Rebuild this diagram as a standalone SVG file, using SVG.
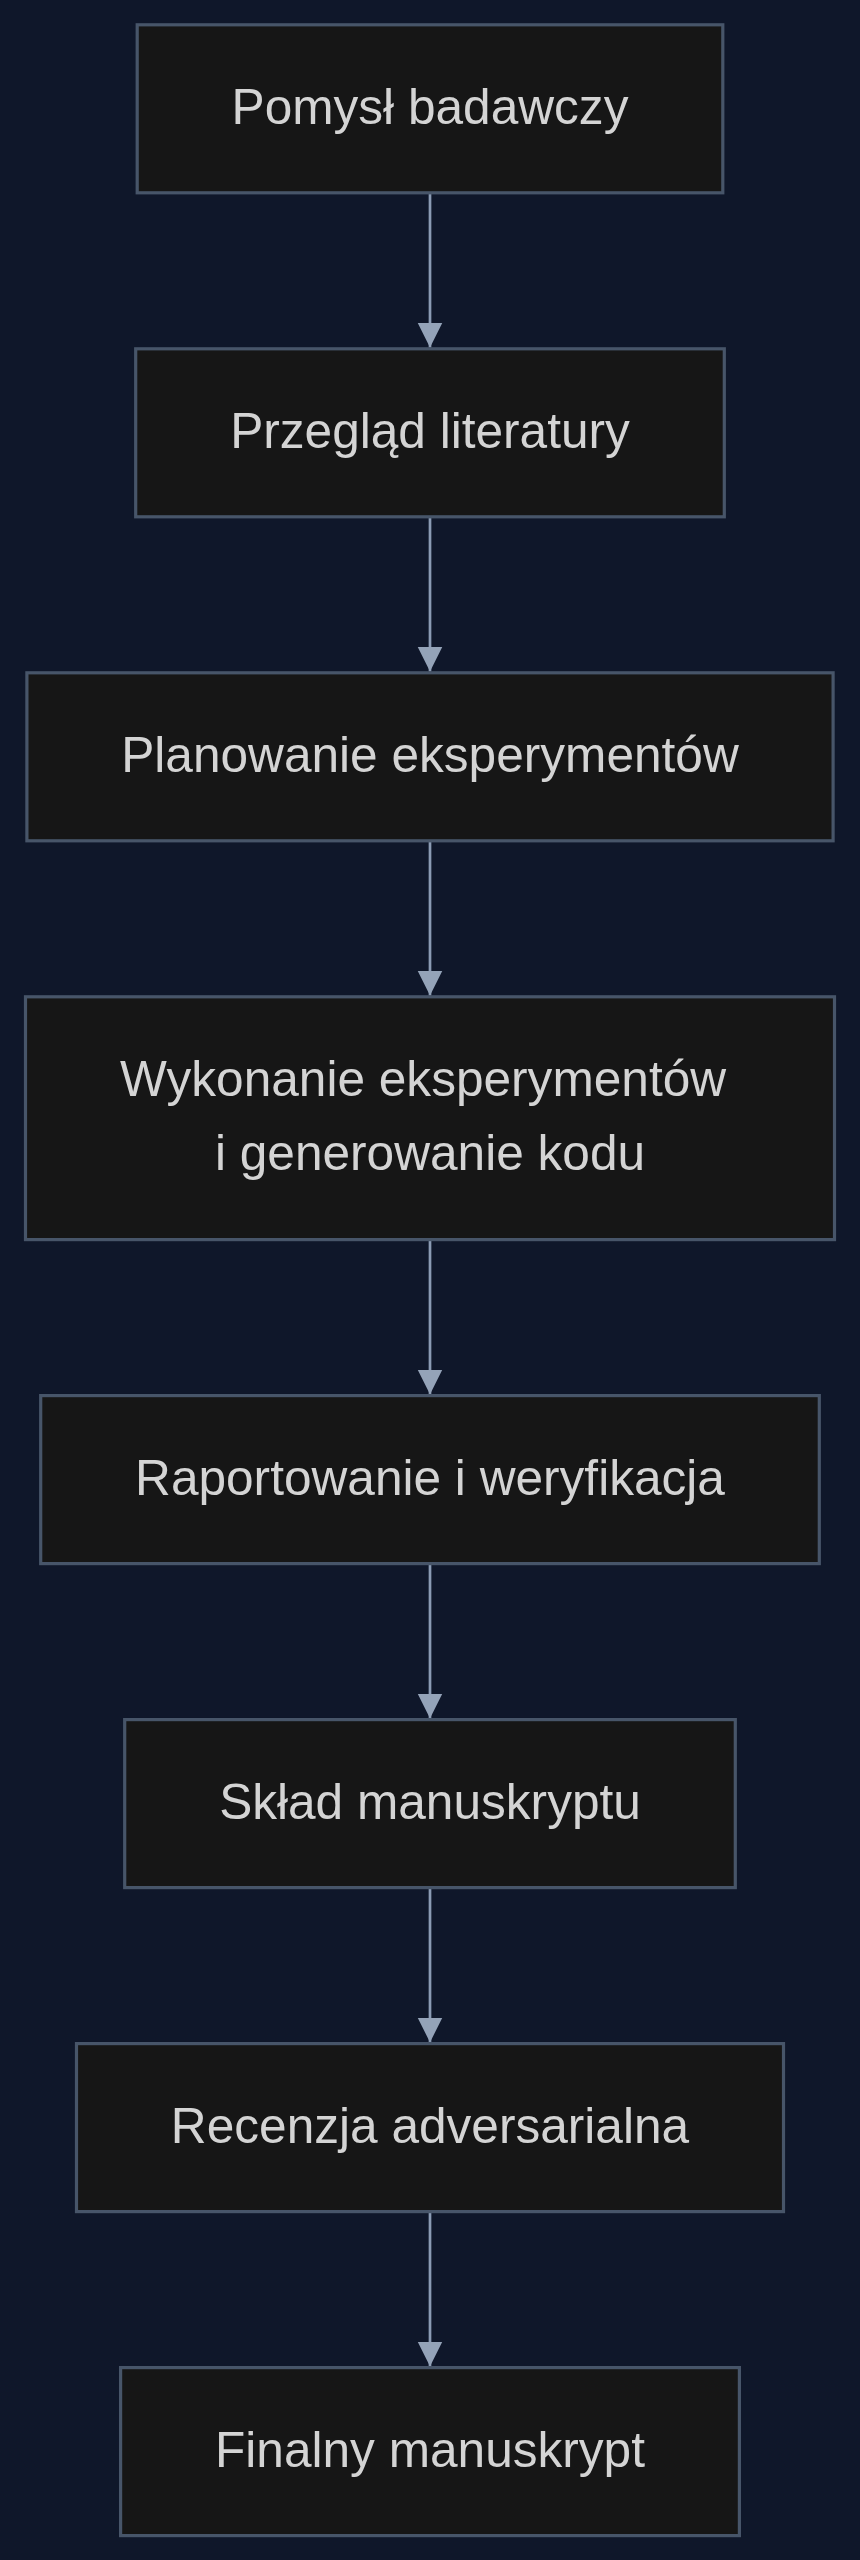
<svg xmlns="http://www.w3.org/2000/svg" width="860" height="2560" viewBox="0 0 860 2560">
<defs>
<style>
.node rect{fill:#161616;stroke:#475569;stroke-width:3.2}
.node text{font-family:"Liberation Sans",Arial,sans-serif;font-size:49.6px;fill:#d4d4d4;text-anchor:middle}
.edge{stroke:#8b9bb4;stroke-width:2.7;fill:none}
</style>
<marker id="arr" viewBox="0 0 10 10" refX="10" refY="5" markerUnits="userSpaceOnUse" markerWidth="24.5" markerHeight="25.3" orient="auto">
<path d="M0,0 L10,5 L0,10 z" fill="#94a3b8"/>
</marker>
</defs>
<rect width="860" height="2560" fill="#0f172a"/>
<g id="edges">
<path class="edge" d="M430,192.8 V347.6" marker-end="url(#arr)"/>
<path class="edge" d="M430,516.8 V671.6" marker-end="url(#arr)"/>
<path class="edge" d="M430,840.8 V995.6" marker-end="url(#arr)"/>
<path class="edge" d="M430,1239.6 V1394.4" marker-end="url(#arr)"/>
<path class="edge" d="M430,1563.6 V1718.4" marker-end="url(#arr)"/>
<path class="edge" d="M430,1887.6 V2042.4" marker-end="url(#arr)"/>
<path class="edge" d="M430,2211.6 V2366.4" marker-end="url(#arr)"/>
</g>
<g id="n1" class="node"><rect x="137.2" y="24.8" width="585.6" height="168"/><text x="430" y="123.8">Pomysł badawczy</text></g>
<g id="n2" class="node"><rect x="135.7" y="348.8" width="588.6" height="168"/><text x="430" y="447.8">Przegląd literatury</text></g>
<g id="n3" class="node"><rect x="26.9" y="672.8" width="806.2" height="168"/><text x="430" y="771.8">Planowanie eksperymentów</text></g>
<g id="n4" class="node"><rect x="25.5" y="996.8" width="809" height="242.8"/><text x="423.1" y="1096">Wykonanie eksperymentów</text><text x="430" y="1170.4">i generowanie kodu</text></g>
<g id="n5" class="node"><rect x="40.7" y="1395.6" width="778.6" height="168"/><text x="430" y="1494.6">Raportowanie i weryfikacja</text></g>
<g id="n6" class="node"><rect x="124.7" y="1719.6" width="610.6" height="168"/><text x="430" y="1818.6">Skład manuskryptu</text></g>
<g id="n7" class="node"><rect x="76.5" y="2043.6" width="707" height="168"/><text x="430" y="2142.6">Recenzja adversarialna</text></g>
<g id="n8" class="node"><rect x="120.6" y="2367.6" width="618.8" height="168"/><text x="430" y="2466.6">Finalny manuskrypt</text></g>
</svg>
